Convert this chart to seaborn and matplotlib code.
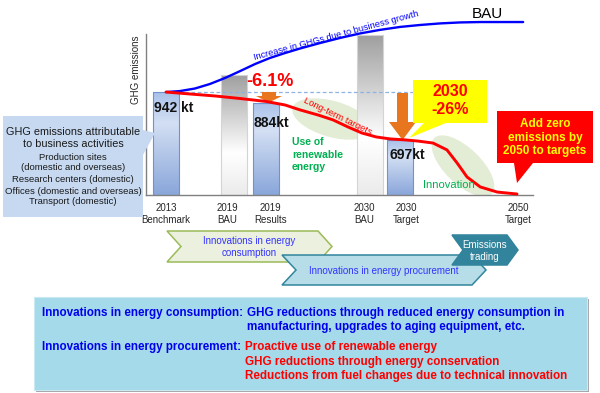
import numpy as np
import pandas as pd
import matplotlib
matplotlib.use("Agg")
import matplotlib.pyplot as plt
import matplotlib.transforms as mtransforms
from matplotlib.patches import Polygon, Ellipse, Rectangle
from matplotlib.colors import to_rgb
import seaborn as sns

# ---------------- data ----------------
categories = ["2013\nBenchmark", "2019\nBAU", "2019\nResults", "2030\nBAU", "2030\nTarget", "2050\nTarget"]
bar_kind = ["actual", "bau", "actual", "bau", "actual", "actual"]
emissions_kt = [942, 1029, 884, 1233, 697, 0]
value_labels = ["942 kt", "", "884kt", "", "697kt", ""]

# BAU curve (increase due to business growth)
bau_x = [0.0, 0.41, 0.85, 1.29, 1.74, 2.18, 2.62, 3.06, 3.5, 3.94, 4.53, 5.12,
         5.71, 6.29, 6.88, 7.47, 8.06, 8.65, 9.24, 10.5]
bau_y = [942, 947, 960, 983, 1014, 1049, 1085, 1116, 1141, 1164, 1192, 1218,
         1241, 1259, 1274, 1284, 1292, 1297, 1299, 1299]
# Long-term targets curve
target_x = [0.0, 0.71, 1.44, 2.18, 2.94, 3.5, 3.94, 4.47, 4.91, 5.35, 5.76, 6.18,
            6.59, 7.03, 7.41, 7.85, 8.26, 8.56, 8.85, 9.24, 9.74, 10.32]
target_y = [942, 932, 922, 909, 894, 876, 851, 825, 800, 764, 733, 713,
            703, 698, 692, 682, 647, 580, 509, 458, 432, 422]

# ---------------- layout ----------------
bar_x = [0.0, 2.0, 2.94, 6.0, 6.88, 10.32]
tick_x = [0.0, 1.79, 3.06, 5.82, 7.06, 10.35]
bar_w = 0.765
x_lim = (-0.588, 10.79)
y_lim = (417, 1238)

W, H = 600, 393
sns.set_theme(style="white")
plt.rcParams["font.family"] = ["Liberation Sans", "DejaVu Sans"]

fig = plt.figure(figsize=(6, 3.93), dpi=100)
fig.patch.set_facecolor("white")
P = mtransforms.Affine2D().scale(1 / W, -1 / H).translate(0, 1) + fig.transFigure

ax = fig.add_axes([146 / W, 1 - 195 / H, (533 - 146) / W, (195 - 34) / H])
ax.set_facecolor("none")

df = pd.DataFrame({"x": bar_x, "kt": emissions_kt, "kind": bar_kind})
width = bar_w / np.min(np.diff(np.sort(bar_x)))
sns.barplot(data=df, x="x", y="kt", native_scale=True, width=width,
            color="#9CB6E4", errorbar=None, ax=ax, zorder=2)


def vgrad(stops, n=256):
    pos = np.linspace(0, 1, n)
    ps = [s[0] for s in stops]
    cs = np.array([to_rgb(s[1]) for s in stops])
    arr = np.zeros((n, 1, 3))
    for c in range(3):
        arr[:, 0, c] = np.interp(pos, ps, cs[:, c])
    return arr


grad = {
    "actual": (vgrad([(0, "#A9C1EA"), (0.3, "#D3DFF3"), (1, "#89A6DA")]), "#6F93D1"),
    "bau": (vgrad([(0, "#9E9E9E"), (0.65, "#FFFFFF"), (1, "#EBEBEB")]), "#D4D4D4"),
}
for p in list(ax.patches):
    cx = p.get_x() + p.get_width() / 2
    i = int(np.argmin([abs(cx - b) for b in bar_x]))
    h = p.get_height()
    if h <= y_lim[0]:
        p.set_visible(False)
        continue
    img, ec = grad[bar_kind[i]]
    im = ax.imshow(img, extent=(p.get_x(), p.get_x() + p.get_width(), y_lim[0], h),
                   origin="upper", aspect="auto", zorder=1.9)
    im.set_clip_path(p)
    p.set_facecolor("none")
    p.set_edgecolor(ec)
    p.set_linewidth(0.8)

# curves
sns.lineplot(x=bau_x, y=bau_y, ax=ax, color="#0000FF", lw=1.7, sort=False,
             estimator=None, clip_on=False, zorder=4)
sns.lineplot(x=target_x, y=target_y, ax=ax, color="#FF0000", lw=2.1, sort=False,
             estimator=None, clip_on=False, zorder=4)
# reference dashed line at benchmark level
ax.plot([bar_x[0], 7.26], [emissions_kt[0]] * 2, ls=(0, (3, 2)), color="#8DB3E2",
        lw=0.9, zorder=3)

ax.set_xlim(*x_lim)
ax.set_ylim(*y_lim)
ax.set_xlabel("")
ax.set_ylabel("")
ax.set_yticks([])
ax.set_xticks(tick_x)
ax.set_xticklabels(categories, fontsize=7, color="#262626", linespacing=1.15)
ax.tick_params(axis="x", length=0, pad=6)
for s in ["top", "right"]:
    ax.spines[s].set_visible(False)
for s in ["left", "bottom"]:
    ax.spines[s].set_color("#808080")
    ax.spines[s].set_linewidth(1)

# background ellipses
for (cx, cy, ew, eh, ang) in [(332, 119, 82, 36, 16), (463, 166, 80, 36, 44)]:
    e = Ellipse((cx, cy), ew, eh, angle=ang, transform=P, facecolor="#E3ECD5",
                edgecolor="none", zorder=1.5)
    ax.add_patch(e)

# orange arrows
arrow1 = [(262, 92), (276, 92), (276, 96), (282, 96), (269, 102.5), (256, 96), (262, 96)]
arrow2 = [(397, 93), (408, 93), (408, 122), (416, 122), (402.5, 140), (389, 122), (397, 122)]
for pts in (arrow1, arrow2):
    ax.add_patch(Polygon(pts, closed=True, transform=P, facecolor="#E8761E",
                         edgecolor="none", zorder=3.5, clip_on=False))


def ptext(x, y, s, **kw):
    kw.setdefault("va", "center")
    return fig.text(x, y, s, transform=P, **kw)


# ---------- texts in chart ----------
ptext(136, 70, "GHG emissions", rotation=90, ha="center", fontsize=7, color="#262626")
ptext(487, 14, "BAU", ha="center", fontsize=11, color="#000000")
ptext(336, 36, "Increase in GHGs due to business growth", rotation=15, ha="center",
      rotation_mode="anchor", fontsize=6.6, color="#0000FF")
ptext(338, 116, "Long-term targets", rotation=-26, ha="center", rotation_mode="anchor",
      fontsize=6.8, color="#FF0000")
ptext(246, 82, "-6.1%", ha="left", fontsize=13, fontweight="bold", color="#FF0000")

val_pos = {0: (154, 108), 2: (253, 123), 4: (390, 155)}
for i, (lx, ly) in val_pos.items():
    ptext(lx, ly, value_labels[i], ha="left", fontsize=10, fontweight="bold", color="#111111")

for y, s in zip([142, 154.5, 167], ["Use of", "renewable", "energy"]):
    ptext(292, y, s, ha="left", fontsize=7.5, fontweight="bold", color="#00B050")
ptext(423, 185, "Innovation", ha="left", fontsize=8, color="#00B050")

# yellow callout
yel = [(413, 80), (487, 80), (487, 123), (446, 123), (409, 138), (424, 123), (413, 123)]
fig.add_artist(Polygon(yel, closed=True, transform=P, facecolor="#FFFF00",
                       edgecolor="none", zorder=2))
ptext(450, 92, "2030", ha="center", fontsize=11.5, fontweight="bold", color="#FF0000", zorder=3)
ptext(450, 110, "-26%", ha="center", fontsize=11.5, fontweight="bold", color="#FF0000", zorder=3)

# red callout
red = [(497, 111), (593, 111), (593, 163), (533, 163), (517, 183), (514, 163), (497, 163)]
fig.add_artist(Polygon(red, closed=True, transform=P, facecolor="#FF0000",
                       edgecolor="none", zorder=2))
for y, s in zip([124, 137.5, 151], ["Add zero", "emissions by", "2050 to targets"]):
    ptext(545, y, s, ha="center", fontsize=8.5, fontweight="bold", color="#FFFF00", zorder=3)

# left callout
lc = [(3, 116), (143, 116), (143, 130), (155, 133), (143, 155), (143, 217), (3, 217)]
fig.add_artist(Polygon(lc, closed=True, transform=P, facecolor="#C6D9F1",
                       edgecolor="none", zorder=2))
for y, s in zip([132, 144], ["GHG emissions attributable", "to business activities"]):
    ptext(73, y, s, ha="center", fontsize=7.8, color="#1A1A1A", zorder=3)
for y, s in zip([157, 168, 179.5, 191, 202],
                ["Production sites", "(domestic and overseas)", "Research centers (domestic)",
                 "Offices (domestic and overseas)", "Transport (domestic)"]):
    ptext(73, y, s, ha="center", fontsize=6.8, color="#1A1A1A", zorder=3)

# chevrons
def chevron(x0, x1, y0, y1, depth, fc, ec, z):
    ym = (y0 + y1) / 2
    pts = [(x0, y0), (x1 - depth, y0), (x1, ym), (x1 - depth, y1), (x0, y1), (x0 + depth, ym)]
    fig.add_artist(Polygon(pts, closed=True, transform=P, facecolor=fc, edgecolor=ec,
                           lw=1.1, zorder=z))


chevron(167, 332, 231, 262, 14, "#EBF1DE", "#9BBB59", 2)
ptext(249, 241, "Innovations in energy", ha="center", fontsize=7, color="#3333FF", zorder=3)
ptext(249, 252.5, "consumption", ha="center", fontsize=7, color="#3333FF", zorder=3)
chevron(282, 486, 255, 285, 14, "#B7DEE8", "#31859C", 2.1)
ptext(384, 271, "Innovations in energy procurement", ha="center", fontsize=7,
      color="#3333FF", zorder=3)
chevron(452, 518, 235, 265, 11, "#31849B", "#31849B", 2.2)
ptext(485, 245.5, "Emissions", ha="center", fontsize=7, color="#FFFFFF", zorder=3.1)
ptext(485, 257.5, "trading", ha="center", fontsize=7, color="#FFFFFF", zorder=3.1)

# bottom explanation box
fig.add_artist(Rectangle((36, 299), 553, 93, transform=P, facecolor="#A6A6A6",
                         edgecolor="none", zorder=1.8))
fig.add_artist(Rectangle((34, 297), 553, 93, transform=P, facecolor="#A4DAE9",
                         edgecolor="#C9EAF3", lw=0.8, zorder=2))
blue_t = "#0000EE"
bold = dict(fontsize=8.4, fontweight="bold", ha="left", zorder=3)
ptext(42, 313, "Innovations in energy consumption:", color=blue_t, **bold)
ptext(247, 313, "GHG reductions through reduced energy consumption in", color=blue_t, **bold)
ptext(247, 327, "manufacturing, upgrades to aging equipment, etc.", color=blue_t, **bold)
ptext(42, 347, "Innovations in energy procurement:", color=blue_t, **bold)
for y, s in zip([347, 361.5, 375.5], ["Proactive use of renewable energy",
                                     "GHG reductions through energy conservation",
                                     "Reductions from fuel changes due to technical innovation"]):
    ptext(245, y, s, color="#FF0000", **bold)

fig.savefig("out.png", dpi=100)
